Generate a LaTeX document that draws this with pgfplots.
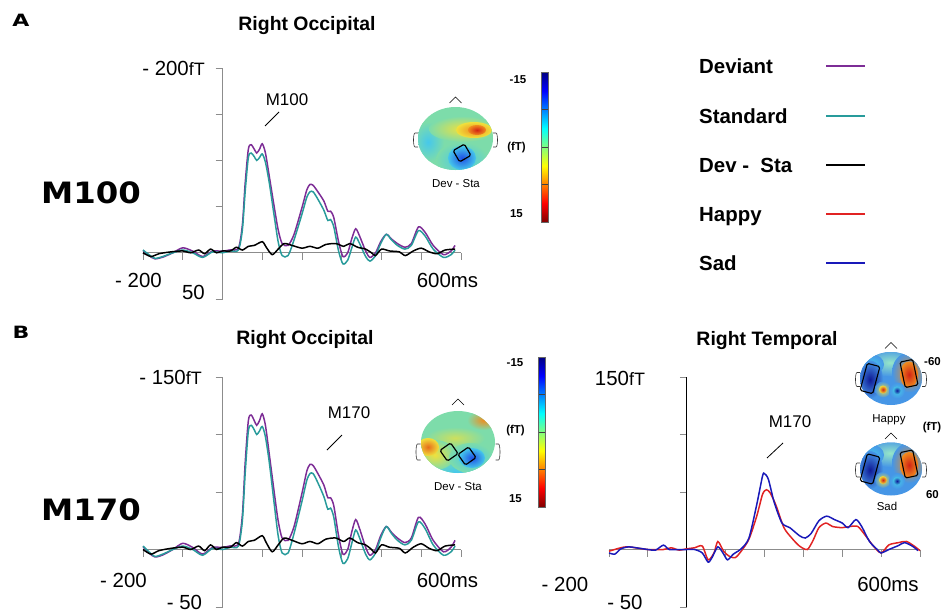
\documentclass[border=0pt]{standalone}
\usepackage{pgfplots}
\pgfplotsset{compat=1.18}
\usepackage{pgfplotstable}
\usepackage{graphicx}
\usepackage{fontspec}
\setmainfont{Liberation Sans}
\newfontfamily\heavy{DejaVu Sans}

\definecolor{devc}{RGB}{125,45,150}
\definecolor{stdc}{RGB}{40,155,155}
\definecolor{hapc}{RGB}{225,35,35}
\definecolor{sadc}{RGB}{25,25,185}
\definecolor{axgray}{RGB}{140,140,140}
\definecolor{jdb}{RGB}{15,25,150}
\definecolor{jb}{RGB}{30,80,230}
\definecolor{jc}{RGB}{70,200,235}
\definecolor{jg}{RGB}{125,220,170}
\definecolor{jy}{RGB}{240,225,60}
\definecolor{jo}{RGB}{240,140,30}
\definecolor{jr}{RGB}{210,35,20}
\definecolor{jmb}{RGB}{70,150,230}
\definecolor{jpg}{RGB}{150,230,200}

% Right occipital (Deviant / Standard), fT (negative = upward, as on the axis)
\pgfplotstableread{
t dev std
-200 -2.5 -3
-185 3 2
-170 6.5 6
-150 4.7 4
-125 0 0
-100 -5.4 -3
-75 -1.8 0
-50 4 5
-25 -1.8 -1
0 -1.8 0
20 -3.2 -2
40 -5 -3
50 -30 -25
57 -75 -66
65 -112 -103
72 -117 -108
80 -112 -104
86 -108 -100
93 -112 -103
100 -118 -107
108 -108 -98
118 -82 -75
130 -50 -40
140 -25 -12
150 -10 3
165 -8 3
180 -20 -14
200 -49 -42
212 -68 -60
220 -74 -66
228 -73 -66
240 -66 -58
255 -56 -46
265 -45 -35
272 -45 -36
280 -38 -28
292 -12 -2
303 4 12
315 0 8
325 -15 -5
335 -26 -17
345 -18 -10
360 -2 4
371 5 9
385 0 3
398 -12 -10
412 -20 -20
425 -15 -14
440 -10 -8
459 -6 -4
475 -10 -8
493 -28 -24
510 -22 -18
530 -8 -4
556 2 5
575 -2 2
585 -8 -3
}\tabA

\pgfplotstableread{
t diff
-200 0
-180 4
-160 1
-130 -1
-100 -2
-80 0
-60 -3
-45 1
-30 -4
-15 0
0 -2
20 -2
35 -6
50 -3
65 -7
80 -8
100 -12
110 -6
125 2
140 -4
155 -10
175 -8
200 -5
220 -7
240 -5
260 -9
285 -10
305 -7
320 -10
340 -6
360 -4
375 0
385 3
400 -4
420 -2
445 -1
460 3
480 -2
500 -5
520 -1
540 1
560 -3
585 -4
}\tabD

% Right temporal (Happy / Sad), fT
\pgfplotstableread{
t sad
-200 -3
-185 -4
-170 0.5
-150 2.3
-130 1.5
-100 0
-80 -0.5
-60 3.8
-45 0
-20 0
0 0
20 0
40 -3
55 -11
65 -7
80 2.3
95 -4
105 -9
120 -4
140 0.6
160 10
180 39
195 64
200 66
210 61
225 41
245 23
265 19
290 12
305 10
320 14
340 25
360 29
380 26
400 23
415 19
435 26
450 20
470 7
490 0
500 -3
520 0
545 3.5
560 6
580 3
595 -1
}\tabSad

\pgfplotstableread{
t hap
-200 -1.5
-170 1.5
-150 2.3
-100 0
-60 0
-40 1.5
-20 -0.5
0 0.6
20 1.5
40 3
55 -9
70 -3
80 7
95 -1.5
110 -6
125 -7
140 -1.5
160 9
180 29
195 48
205 52
215 49
230 38
250 19
270 10
290 3
310 0
325 8
340 19
358 23
375 20
400 19
420 20
440 20
460 12
480 3
500 -3
520 4
545 6
565 7
585 3
600 -1
}\tabHap

\pgfplotsset{
  erp/.style={
    scale only axis, anchor=south west,
    axis lines=middle,
    axis line style={-, axgray, line width=1pt},
    xmin=-200, xmax=600,
    xtick={-200,-100,...,600},
    xticklabels={}, yticklabels={},
    tick style={axgray, line width=1pt},
    major tick length=7bp,
    tick align=outside,
    clip=false,
    every axis plot/.append style={line width=1.5pt, smooth, tension=0.45},
  },
  cbar/.style={
    scale only axis, anchor=south west, width=7bp, height=150bp,
    hide axis, xmin=0, xmax=1, ymin=0, ymax=1,
    colormap={revjet}{rgb255(0pt)=(128,0,0); rgb255(1pt)=(255,0,0); rgb255(3pt)=(255,255,0); rgb255(5pt)=(0,255,255); rgb255(7pt)=(0,0,255); rgb255(8pt)=(0,0,128)},
    point meta min=-15, point meta max=15,
    colorbar,
    colorbar style={at={(parent axis.south west)}, anchor=south west,
      width=7bp, height=150bp,
      ytick={-7.5,0,7.5}, yticklabels={},
      major tick length=7bp, ytick align=inside,
      tick style={black!75, line width=0.6pt},
      axis line style={black!60, line width=0.4pt}},
  },
}

\newcommand{\nose}[2]{\draw[black, line width=0.7pt] (#1-6,#2) -- (#1,#2-6) -- (#1+6,#2);}
\newcommand{\ears}[4]{% cx cy halfwidth half height
  \draw[black!80, line width=0.6pt] (#1-#3+1,#2-#4) -- (#1-#3-2,#2-#4) .. controls (#1-#3-4,#2-#4) and (#1-#3-4,#2+#4) .. (#1-#3-2,#2+#4) -- (#1-#3+1,#2+#4);
  \draw[black!80, line width=0.6pt] (#1+#3-1,#2-#4) -- (#1+#3+2,#2-#4) .. controls (#1+#3+4,#2-#4) and (#1+#3+4,#2+#4) .. (#1+#3+2,#2+#4) -- (#1+#3-1,#2+#4);
}
\newcommand{\emomap}[1]{% centre y of the emotion map
  \begin{scope}
    \clip (891,#1) ellipse (31 and 26.5);
    \fill[jmb] (855,#1-30) rectangle (925,#1+30);
    \shade[inner color=jpg, outer color=jmb] (890,#1-16) ellipse (28 and 14);
    \shade[inner color=jc, outer color=jmb] (872,#1-14) ellipse (12 and 10);
    \shade[inner color=jdb, outer color=jmb] (870,#1+1) ellipse (13 and 19);
    \shade[inner color=jo, outer color=jmb] (909,#1-6) ellipse (17 and 20);
    \shade[inner color=jr, outer color=jo] (909,#1-4) ellipse (9 and 13);
    \shade[inner color=jy, outer color=jmb] (883,#1+11) ellipse (8 and 8);
    \shade[inner color=jr, outer color=jy] (883,#1+11) ellipse (4 and 4);
    \shade[inner color=jc, outer color=jmb] (897,#1+12) ellipse (8 and 8);
    \shade[inner color=jdb, outer color=jc] (897,#1+12) ellipse (4 and 4);
  \end{scope}
  \draw[black, line width=1.1pt, rounded corners=1.5pt, rotate around={-15:(870,#1)}] (863.5,#1-14) rectangle (876.5,#1+14);
  \draw[black, line width=1.1pt, rounded corners=1.5pt, rotate around={12:(909,#1-5)}] (902.5,#1-18) rectangle (915.5,#1+8);
  \nose{891}{#1-30}
  \ears{891}{#1+1}{32}{7}
}

\begin{document}
\begin{tikzpicture}
\useasboundingbox (0,0) rectangle (946bp,-612bp);

% ---------------- Panel A (upward = negative fT) ----------------
\begin{axis}[erp, at={(143bp,-299bp)}, width=318bp, height=231bp,
  ymin=-50, ymax=200, ytick={-50,0,...,200}]
\addplot[devc] table[x=t, y expr=-\thisrow{dev}] {\tabA};
\addplot[stdc] table[x=t, y expr=-\thisrow{std}] {\tabA};
\addplot[black] table[x=t, y expr=-\thisrow{diff}] {\tabD};
\end{axis}

% ---------------- Panel B left ----------------
\begin{axis}[erp, at={(143bp,-607bp)}, width=318bp, height=230bp,
  ymin=-50, ymax=150, ytick={-50,0,...,150}]
\addplot[devc] table[x=t, y expr=-\thisrow{dev}] {\tabA};
\addplot[stdc] table[x=t, y expr=-\thisrow{std}] {\tabA};
\addplot[black] table[x=t, y expr=-\thisrow{diff}] {\tabD};
\end{axis}

% ---------------- Panel B right ----------------
\begin{axis}[erp, at={(609bp,-607bp)}, width=311bp, height=230bp,
  ymin=-50, ymax=150, ytick={-50,0,...,150},
  y axis line style={black, line width=1pt}]
\addplot[hapc] table[x=t, y=hap] {\tabHap};
\addplot[sadc] table[x=t, y=sad] {\tabSad};
\end{axis}

% ---------------- colour bars ----------------
\begin{axis}[cbar, at={(533bp,-222bp)}]
\addplot[draw=none] coordinates {(0.5,0.5)};
\end{axis}
\begin{axis}[cbar, at={(530bp,-507bp)}]
\addplot[draw=none] coordinates {(0.5,0.5)};
\end{axis}

\begin{scope}[x=1bp, y=-1bp]
  % panel letters and big labels
  \node[anchor=base, font=\heavy\bfseries\fontsize{17}{17}\selectfont] at (21,26.7) {\scalebox{1.3}[1]{A}};
  \node[anchor=base, font=\heavy\bfseries\fontsize{17}{17}\selectfont] at (21,338) {\scalebox{1.3}[1]{B}};
  \node[anchor=base, font=\heavy\bfseries\fontsize{29.5}{30}\selectfont] at (91,203.3) {\scalebox{1.1}[1]{M100}};
  \node[anchor=base, font=\heavy\bfseries\fontsize{29.5}{30}\selectfont] at (91,520) {\scalebox{1.1}[1]{M170}};

  % titles
  \node[anchor=base, font=\bfseries\fontsize{19.5}{20}\selectfont] at (307,30.7) {Right Occipital};
  \node[anchor=base, font=\bfseries\fontsize{19.5}{20}\selectfont] at (305,344) {Right Occipital};
  \node[anchor=base, font=\bfseries\fontsize{19.5}{20}\selectfont] at (767,345) {Right Temporal};

  % axis texts panel A
  \node[anchor=base east, inner sep=0pt, font=\fontsize{20.5}{21}\selectfont] at (205,75) {- 200{\fontsize{18}{18}\selectfont fT}};
  \node[anchor=base, inner sep=0pt, font=\fontsize{20.5}{21}\selectfont] at (138.5,287) {- 200};
  \node[anchor=base, inner sep=0pt, font=\fontsize{20.5}{21}\selectfont] at (193.5,299) {50};
  \node[anchor=base, inner sep=0pt, font=\fontsize{20.5}{21}\selectfont] at (447.5,287) {600ms};
  \node[anchor=base, inner sep=0pt, font=\fontsize{17}{17}\selectfont] at (287,105) {M100};
  \draw[black, line width=0.8pt] (265,126) -- (279,112);

  % axis texts panel B left
  \node[anchor=base east, inner sep=0pt, font=\fontsize{20.5}{21}\selectfont] at (202,384) {- 150{\fontsize{18}{18}\selectfont fT}};
  \node[anchor=base, inner sep=0pt, font=\fontsize{20.5}{21}\selectfont] at (123.5,587) {- 200};
  \node[anchor=base, inner sep=0pt, font=\fontsize{20.5}{21}\selectfont] at (184.5,609.5) {- 50};
  \node[anchor=base, inner sep=0pt, font=\fontsize{20.5}{21}\selectfont] at (447.5,587) {600ms};
  \node[anchor=base, inner sep=0pt, font=\fontsize{17}{17}\selectfont] at (349,418) {M170};
  \draw[black, line width=0.8pt] (327,450) -- (342,435);

  % axis texts panel B right
  \node[anchor=base, inner sep=0pt, font=\fontsize{20.5}{21}\selectfont] at (620,385) {150{\fontsize{18}{18}\selectfont fT}};
  \node[anchor=base, inner sep=0pt, font=\fontsize{20.5}{21}\selectfont] at (565,591) {- 200};
  \node[anchor=base, inner sep=0pt, font=\fontsize{20.5}{21}\selectfont] at (625,609.5) {- 50};
  \node[anchor=base, inner sep=0pt, font=\fontsize{20.5}{21}\selectfont] at (888,591) {600ms};
  \node[anchor=base, inner sep=0pt, font=\fontsize{17}{17}\selectfont] at (790,427) {M170};
  \draw[black, line width=0.8pt] (767,458) -- (783,443);

  % legend
  \foreach \yy/\txt/\col in {66/Deviant/devc, 116/Standard/stdc, 165/{Dev -\ \ Sta}/black, 214/Happy/hapc, 263/Sad/sadc}{
    \node[anchor=base west, inner sep=0pt, font=\bfseries\fontsize{20.5}{21}\selectfont] at (699,\yy+7.3) {\txt};
    \draw[\col, line width=1.6pt] (826,\yy) -- (865,\yy);
  }

  % colour bar labels
  \node[anchor=base, inner sep=0pt, font=\bfseries\fontsize{11.5}{12}\selectfont] at (518,83.3) {-15};
  \node[inner sep=0pt, font=\bfseries\fontsize{11.5}{12}\selectfont] at (516.5,147.5) {(fT)};
  \node[anchor=base, inner sep=0pt, font=\bfseries\fontsize{11.5}{12}\selectfont] at (516.5,217.3) {15};
  \node[anchor=base, inner sep=0pt, font=\bfseries\fontsize{11.5}{12}\selectfont] at (515,366.7) {-15};
  \node[inner sep=0pt, font=\bfseries\fontsize{11.5}{12}\selectfont] at (515.5,431) {(fT)};
  \node[anchor=base, inner sep=0pt, font=\bfseries\fontsize{11.5}{12}\selectfont] at (515.5,502.3) {15};
  \node[anchor=base, inner sep=0pt, font=\bfseries\fontsize{11.5}{12}\selectfont] at (932.5,365.7) {-60};
  \node[inner sep=0pt, font=\bfseries\fontsize{11.5}{12}\selectfont] at (932,428) {(fT)};
  \node[anchor=base, inner sep=0pt, font=\bfseries\fontsize{11.5}{12}\selectfont] at (932.5,498) {60};

  % topographic map A (Dev - Sta)
  \begin{scope}
    \clip (455.5,138.5) ellipse (37.5 and 31.5);
    \fill[jg] (415,105) rectangle (496,172);
    \shade[inner color=jc, outer color=jg] (428,142) ellipse (16 and 20);
    \shade[inner color=jy, outer color=jg] (463,129) ellipse (34 and 13);
    \shade[inner color=jo, outer color=jy] (474,130) ellipse (18 and 8);
    \shade[inner color=jr, outer color=jo] (477,130) ellipse (9 and 5);
    \shade[inner color=jc, outer color=jg] (462,160) ellipse (26 and 18);
    \shade[inner color=jb, outer color=jc] (462,158) ellipse (14 and 12);
  \end{scope}
  \draw[black, line width=1.2pt, rounded corners=1.5pt, rotate around={30:(462,153)}] (455.5,146.5) rectangle (468.5,159.5);
  \nose{455.5}{103}
  \ears{455.5}{140}{38.5}{7}
  \node[anchor=base, inner sep=0pt, font=\fontsize{11.5}{12}\selectfont] at (456,187) {Dev - Sta};

  % topographic map B (Dev - Sta)
  \begin{scope}
    \clip (458,442) ellipse (37 and 31);
    \fill[jg] (418,408) rectangle (498,476);
    \shade[inner color=jc, outer color=jg] (455,472) ellipse (34 and 14);
    \shade[inner color=jy!70!jg, outer color=jg] (455,438) ellipse (30 and 11);
    \shade[inner color=jo, outer color=jg] (484,420) ellipse (17 and 10);
    \shade[inner color=jy, outer color=jg] (435,455) ellipse (20 and 15);
    \shade[inner color=jo!70!jr, outer color=jy] (428,447) ellipse (11 and 9);
    \shade[inner color=jc, outer color=jg] (471,458) ellipse (22 and 15);
    \shade[inner color=jb, outer color=jc] (472,458) ellipse (13 and 10);
  \end{scope}
  \draw[black, line width=1.2pt, rounded corners=1.5pt, rotate around={35:(449,452)}] (442.5,445.5) rectangle (455.5,458.5);
  \draw[black, line width=1.2pt, rounded corners=1.5pt, rotate around={35:(467,456)}] (460.5,449.5) rectangle (473.5,462.5);
  \nose{458}{405}
  \ears{458}{452}{38.5}{8}
  \node[anchor=base, inner sep=0pt, font=\fontsize{11.5}{12}\selectfont] at (458,490) {Dev - Sta};

  % emotion maps
  \emomap{378.5}
  \node[anchor=base, inner sep=0pt, font=\fontsize{11.5}{12}\selectfont] at (889,422) {Happy};
  \emomap{469}
  \node[anchor=base, inner sep=0pt, font=\fontsize{11.5}{12}\selectfont] at (887,510) {Sad};
\end{scope}
\end{tikzpicture}
\end{document}
